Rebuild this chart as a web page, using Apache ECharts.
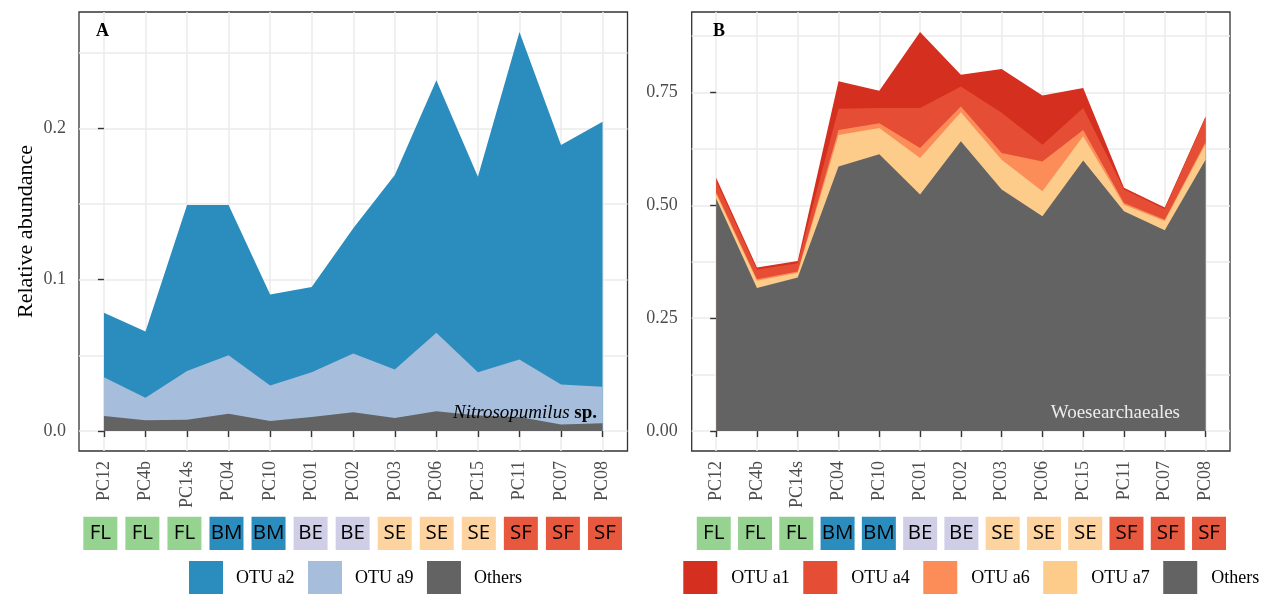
<!DOCTYPE html>
<html>
<head>
<meta charset="utf-8">
<script src="https://cdn.jsdelivr.net/npm/echarts@6/dist/echarts.min.js"></script>
<style>
  html, body { margin: 0; padding: 0; background: #ffffff; }
  #chart { width: 1262px; height: 594px; }
</style>
</head>
<body>
<div id="chart"></div>
<script>
// Sampling sites (x axis) and the habitat group of each site
const samples = ['PC12', 'PC4b', 'PC14s', 'PC04', 'PC10', 'PC01', 'PC02', 'PC03', 'PC06', 'PC15', 'PC11', 'PC07', 'PC08'];
const habitats = ['FL', 'FL', 'FL', 'BM', 'BM', 'BE', 'BE', 'SE', 'SE', 'SE', 'SF', 'SF', 'SF'];

// Panel A: Nitrosopumilus sp. (relative abundance of each OTU)
const nitroOthers = [0.0099, 0.0071, 0.0075, 0.0115, 0.0066, 0.0092, 0.0125, 0.0086, 0.0130, 0.0103, 0.0092, 0.0044, 0.0051];
const otuA9 = [0.0257, 0.0149, 0.0321, 0.0386, 0.0235, 0.0297, 0.0387, 0.0321, 0.0519, 0.0286, 0.0381, 0.0264, 0.0242];
const otuA2 = [0.0426, 0.0437, 0.1098, 0.0993, 0.0602, 0.0563, 0.0828, 0.1285, 0.1669, 0.1292, 0.2164, 0.1582, 0.1751];

// Panel B: Woesearchaeales (relative abundance of each OTU)
const woeseOthers = [0.515, 0.317, 0.340, 0.586, 0.613, 0.524, 0.642, 0.535, 0.476, 0.599, 0.487, 0.445, 0.601];
const otuA7 = [0.010, 0.016, 0.0105, 0.070, 0.058, 0.081, 0.064, 0.066, 0.055, 0.054, 0.014, 0.020, 0.035];
const otuA6 = [0.004, 0.003, 0.003, 0.011, 0.011, 0.022, 0.013, 0.015, 0.066, 0.014, 0.004, 0.003, 0.004];
const otuA4 = [0.025, 0.022, 0.018, 0.047, 0.0335, 0.0885, 0.044, 0.089, 0.037, 0.0485, 0.030, 0.024, 0.055];
const otuA1 = [0.007, 0.004, 0.005, 0.061, 0.0385, 0.1685, 0.026, 0.097, 0.109, 0.0445, 0.004, 0.003, 0.002];

// Tick labels of the two y axes
const yTicksA = [0, 0.1, 0.2];
const yTicksB = [0, 0.25, 0.5, 0.75];

// Colours
const habitatColors = { FL: '#96d391', BM: '#2b8cbe', BE: '#cfcee6', SE: '#fdd3a0', SF: '#e8583e' };
const colA = { 'OTU a2': '#2b8cbe', 'OTU a9': '#a6bddb', 'Others': '#636363' };
const colB = { 'OTU a1': '#d52f1f', 'OTU a4': '#e54e34', 'OTU a6': '#fc8d59', 'OTU a7': '#fdcb8a', 'Others': '#636363' };

const serif = '"Liberation Serif", "Times New Roman", serif';
const idx = samples.map((_, i) => i);

// Running sums of the layers, bottom layer first
function cumulate(layers) {
  const out = [];
  let run = idx.map(() => 0);
  layers.forEach(arr => {
    run = run.map((s, i) => s + arr[i]);
    out.push(run.slice());
  });
  return out;
}
const stackA = cumulate([nitroOthers, otuA9, otuA2]);
const stackB = cumulate([woeseOthers, otuA7, otuA6, otuA4, otuA1]);

// y ranges padded by 5% of the data range on both ends
const maxA = Math.max(...stackA[stackA.length - 1]);
const maxB = Math.max(...stackB[stackB.length - 1]);
const rangeA = [-0.05 * maxA, 1.05 * maxA];
const rangeB = [-0.05 * maxB, 1.05 * maxB];
const midpoints = ticks => {
  const step = ticks[1] - ticks[0];
  return ticks.concat([ticks[ticks.length - 1] + step]).map(t => t - step / 2).filter(t => t > 0);
};

const gridLine = { show: true, lineStyle: { color: '#ebebeb', width: 1.5 } };
const tickStyle = { color: '#333333', width: 1.4 };
const tickFont = 18;

function sampleAxis(gridIndex) {
  return {
    type: 'value', gridIndex, min: -0.6, max: samples.length - 1 + 0.6,
    axisLine: { show: false },
    axisTick: { show: true, customValues: idx, length: 6, lineStyle: tickStyle },
    axisLabel: {
      customValues: idx, formatter: v => samples[Math.round(v)], rotate: 90, margin: 10,
      fontSize: tickFont, fontFamily: serif, color: '#4d4d4d'
    },
    splitLine: gridLine
  };
}
function valueAxis(gridIndex, ticks, decimals, range, margin, name) {
  return {
    type: 'value', gridIndex, min: range[0], max: range[1],
    axisLine: { show: false },
    axisTick: { show: true, customValues: ticks, length: 6, lineStyle: tickStyle },
    axisLabel: {
      customValues: ticks, formatter: v => v.toFixed(decimals), margin,
      fontSize: tickFont, fontFamily: serif, color: '#4d4d4d'
    },
    splitLine: gridLine,
    name: name || '', nameLocation: 'middle', nameGap: 42,
    nameTextStyle: { fontSize: 22, fontFamily: serif, color: '#000000' }
  };
}
function minorAxis(gridIndex, ticks, range) {
  return {
    type: 'value', gridIndex, min: range[0], max: range[1],
    axisLine: { show: false },
    axisTick: { show: false, customValues: midpoints(ticks) },
    axisLabel: { show: false },
    splitLine: gridLine
  };
}
function stripAxisX(gridIndex) {
  return { type: 'value', gridIndex, min: -0.6, max: samples.length - 1 + 0.6, show: false };
}
function stripAxisY(gridIndex) {
  return { type: 'value', gridIndex, min: 0, max: 1, show: false };
}
// Each layer is filled from its running sum down to zero; upper layers are drawn first
function areaSeries(name, cumValues, color, xAxisIndex, yAxisIndex) {
  return {
    type: 'line', name, xAxisIndex, yAxisIndex, data: cumValues.map((v, i) => [i, v]),
    symbol: 'none', showSymbol: false, silent: true,
    lineStyle: { width: 0 }, itemStyle: { color },
    areaStyle: { color, opacity: 1, origin: 0 }
  };
}
function stripSeries(xAxisIndex, yAxisIndex) {
  return {
    type: 'scatter', name: 'habitat', xAxisIndex, yAxisIndex, silent: true,
    symbol: 'rect', symbolSize: [34, 33.3],
    data: habitats.map((h, i) => ({ value: [i, 0.5], itemStyle: { color: habitatColors[h], opacity: 1 } })),
    itemStyle: { opacity: 1 },
    label: {
      show: true, position: 'inside', formatter: p => habitats[p.dataIndex],
      fontFamily: '"Open Sans", sans-serif', fontSize: 20.5, color: '#000000'
    }
  };
}
function legendFor(names, colors, left, gap, pad) {
  return {
    data: names.map(n => ({ name: n, itemStyle: { color: colors[n], borderWidth: 0 } })),
    left, top: 561, orient: 'horizontal', padding: 0,
    itemWidth: 34, itemHeight: 34, itemGap: gap, icon: 'rect', selectedMode: false,
    textStyle: { fontFamily: serif, fontSize: 18, color: '#000000', padding: [0, 0, 0, pad] }
  };
}

const panelFrame = { show: true, borderColor: '#333333', borderWidth: 1.3, backgroundColor: 'transparent' };
const namesA = ['Others', 'OTU a9', 'OTU a2'];
const namesB = ['Others', 'OTU a7', 'OTU a6', 'OTU a4', 'OTU a1'];

const seriesA = namesA.map((n, k) => areaSeries(n, stackA[k], colA[n], 0, 0)).reverse();
const seriesB = namesB.map((n, k) => areaSeries(n, stackB[k], colB[n], 1, 2)).reverse();

const option = {
  animation: false,
  backgroundColor: '#ffffff',
  grid: [
    Object.assign({ left: 79, top: 12, width: 548.5, height: 439 }, panelFrame),
    Object.assign({ left: 691.7, top: 12, width: 538.3, height: 439 }, panelFrame),
    { left: 75.1, top: 516.7, width: 555.1, height: 33.3 },
    { left: 689, top: 516.7, width: 544.8, height: 33.3 }
  ],
  xAxis: [sampleAxis(0), sampleAxis(1), stripAxisX(2), stripAxisX(3)],
  yAxis: [
    valueAxis(0, yTicksA, 1, rangeA, 13, 'Relative abundance'),
    minorAxis(0, yTicksA, rangeA),
    valueAxis(1, yTicksB, 2, rangeB, 14),
    minorAxis(1, yTicksB, rangeB),
    stripAxisY(2),
    stripAxisY(3)
  ],
  legend: [
    legendFor(['OTU a2', 'OTU a9', 'Others'], colA, 189, 13.5, 8),
    legendFor(['OTU a1', 'OTU a4', 'OTU a6', 'OTU a7', 'Others'], colB, 683.3, 13.5, 9)
  ],
  series: seriesA.concat(seriesB, [stripSeries(2, 4), stripSeries(3, 5)]),
  graphic: [
    { type: 'text', x: 96, y: 31, silent: true, z: 10,
      style: { text: 'A', fill: '#000', fontSize: 18, fontWeight: 'bold', fontFamily: serif, textAlign: 'left', textVerticalAlign: 'middle' } },
    { type: 'text', x: 713, y: 31, silent: true, z: 10,
      style: { text: 'B', fill: '#000', fontSize: 18, fontWeight: 'bold', fontFamily: serif, textAlign: 'left', textVerticalAlign: 'middle' } },
    { type: 'text', x: 597, y: 413, silent: true, z: 10,
      style: {
        text: '{i|Nitrosopumilus} {b|sp.}', fill: '#000', fontSize: 19, fontFamily: serif,
        textAlign: 'right', textVerticalAlign: 'middle',
        rich: {
          i: { fontStyle: 'italic', fontSize: 19, fontFamily: serif, fill: '#000' },
          b: { fontWeight: 'bold', fontSize: 19, fontFamily: serif, fill: '#000' }
        }
      } },
    { type: 'text', x: 1180, y: 413, silent: true, z: 10,
      style: { text: 'Woesearchaeales', fill: '#ededed', fontSize: 19, fontFamily: serif, textAlign: 'right', textVerticalAlign: 'middle' } }
  ]
};

const chart = echarts.init(document.getElementById('chart'), null, { renderer: 'canvas' });
chart.setOption(option);
</script>
</body>
</html>
